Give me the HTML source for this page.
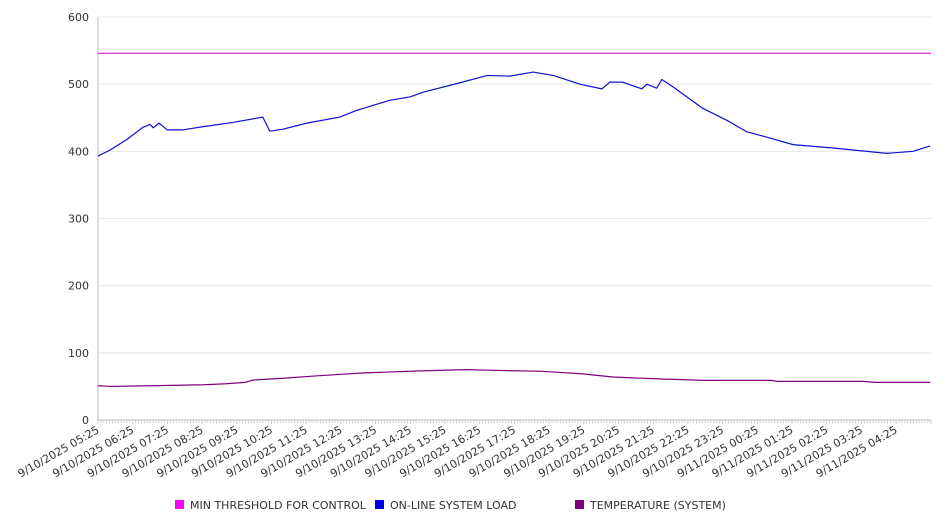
<!DOCTYPE html>
<html><head><meta charset="utf-8"><style>
body{margin:0;background:#fff;}
svg{display:block;font-family:"DejaVu Sans","Liberation Sans",sans-serif;}
</style></head><body>
<svg id="chart" width="946" height="526"></svg>
<script>
const yTicks=[0,100,200,300,400,500,600];
const xLabels=["9/10/2025 05:25","9/10/2025 06:25","9/10/2025 07:25","9/10/2025 08:25","9/10/2025 09:25","9/10/2025 10:25","9/10/2025 11:25","9/10/2025 12:25","9/10/2025 13:25","9/10/2025 14:25","9/10/2025 15:25","9/10/2025 16:25","9/10/2025 17:25","9/10/2025 18:25","9/10/2025 19:25","9/10/2025 20:25","9/10/2025 21:25","9/10/2025 22:25","9/10/2025 23:25","9/11/2025 00:25","9/11/2025 01:25","9/11/2025 02:25","9/11/2025 03:25","9/11/2025 04:25"];
const thresholdValue=546;
const loadHours=[0,0.35,0.84,1.3,1.5,1.59,1.76,1.99,2.45,2.94,3.89,4.75,4.95,5.33,6.02,6.97,7.46,8.41,8.99,9.37,10.35,11.22,11.87,12.54,13.12,13.89,14.52,14.75,15.12,15.67,15.82,16.1,16.25,16.57,17.43,18.13,18.7,19.28,20.03,21.18,22.74,23.49,23.98];
const loadValues=[393,402,418,436,440,435,442,432,432,436,443,451,430,433,442,451,461,476,481,488,501,513,512,518,513,500,493,503,503,493,500,494,507,496,464,446,429,421,410,405,397,400,408];
const tempHours=[0,0.4,1.5,3.05,3.69,4.24,4.47,5.28,6.38,7.61,9.2,10.6,11.38,12.79,13.89,14.84,16.25,17.52,19.39,19.57,22.07,22.39,23.98];
const tempValues=[51,50,51,52.5,54,56,59.5,62,66,70,73,75,74,72.5,69,64,61,59,59,57.5,57.5,56,56];
const L=98,R=931,T=17,B=420,hourPx=34.7;
const NS="http://www.w3.org/2000/svg";
const svg=document.getElementById('chart');
function X(h){return L+h*hourPx;}
function Y(v){return B-(v/600)*(B-T);}
function el(tag,attrs,parent){const e=document.createElementNS(NS,tag);for(const k in attrs)e.setAttribute(k,attrs[k]);(parent||svg).appendChild(e);return e;}
yTicks.forEach(v=>{
  const g=el('line',{x1:L,x2:R,y1:Y(v),y2:Y(v),stroke:'#e8e8e8','stroke-width':1});
  
  
  const t=el('text',{x:89,y:Y(v)+4,'text-anchor':'end','font-size':11,fill:'#333'});
  t.textContent=v;
  
  
});
const ya=el('line',{x1:L,x2:L,y1:T,y2:B+3,stroke:'#bbb'});


const xa=el('line',{x1:L,x2:R,y1:B,y2:B,stroke:'#bbb'});


for(let i=0;i<=288;i++){
  const x=L+i*hourPx/12; if(x>R)break;
  const tk=el('line',{x1:x,x2:x,y1:B,y2:B+(i%12===0?4:3),stroke:'#ccc'});
  
  
}
xLabels.forEach((s,i)=>{
  const x=X(i)+2,y=B+12;
  const t=el('text',{x:x,y:y,'text-anchor':'end','font-size':11,fill:'#333',transform:`rotate(-30 ${x} ${y})`});
  t.textContent=s;
  
  
});
const th=el('line',{x1:L,x2:R,y1:Y(thresholdValue),y2:Y(thresholdValue),stroke:'#d000d0','stroke-width':1});


function poly(hs,vs,color,name){
  const p=el('polyline',{points:hs.map((h,i)=>X(h)+','+Y(vs[i])).join(' '),fill:'none',stroke:color,'stroke-width':1.2,'stroke-linejoin':'round'});
  
  
}
poly(loadHours,loadValues,'#1010d0','system-load-line');
poly(tempHours,tempValues,'#800080','temperature-line');
[["MIN THRESHOLD FOR CONTROL","#ff00ff",175],["ON-LINE SYSTEM LOAD","#0000ee",375],["TEMPERATURE (SYSTEM)","#800080",575]].forEach(([s,c,x])=>{
  const g=el('g',{});
  
  
  el('rect',{x:x,y:500,width:9,height:9,fill:c},g);
  const t=el('text',{x:x+15,y:509,'font-size':11,fill:'#333'},g);
  t.textContent=s;
});
</script>
</body></html>
